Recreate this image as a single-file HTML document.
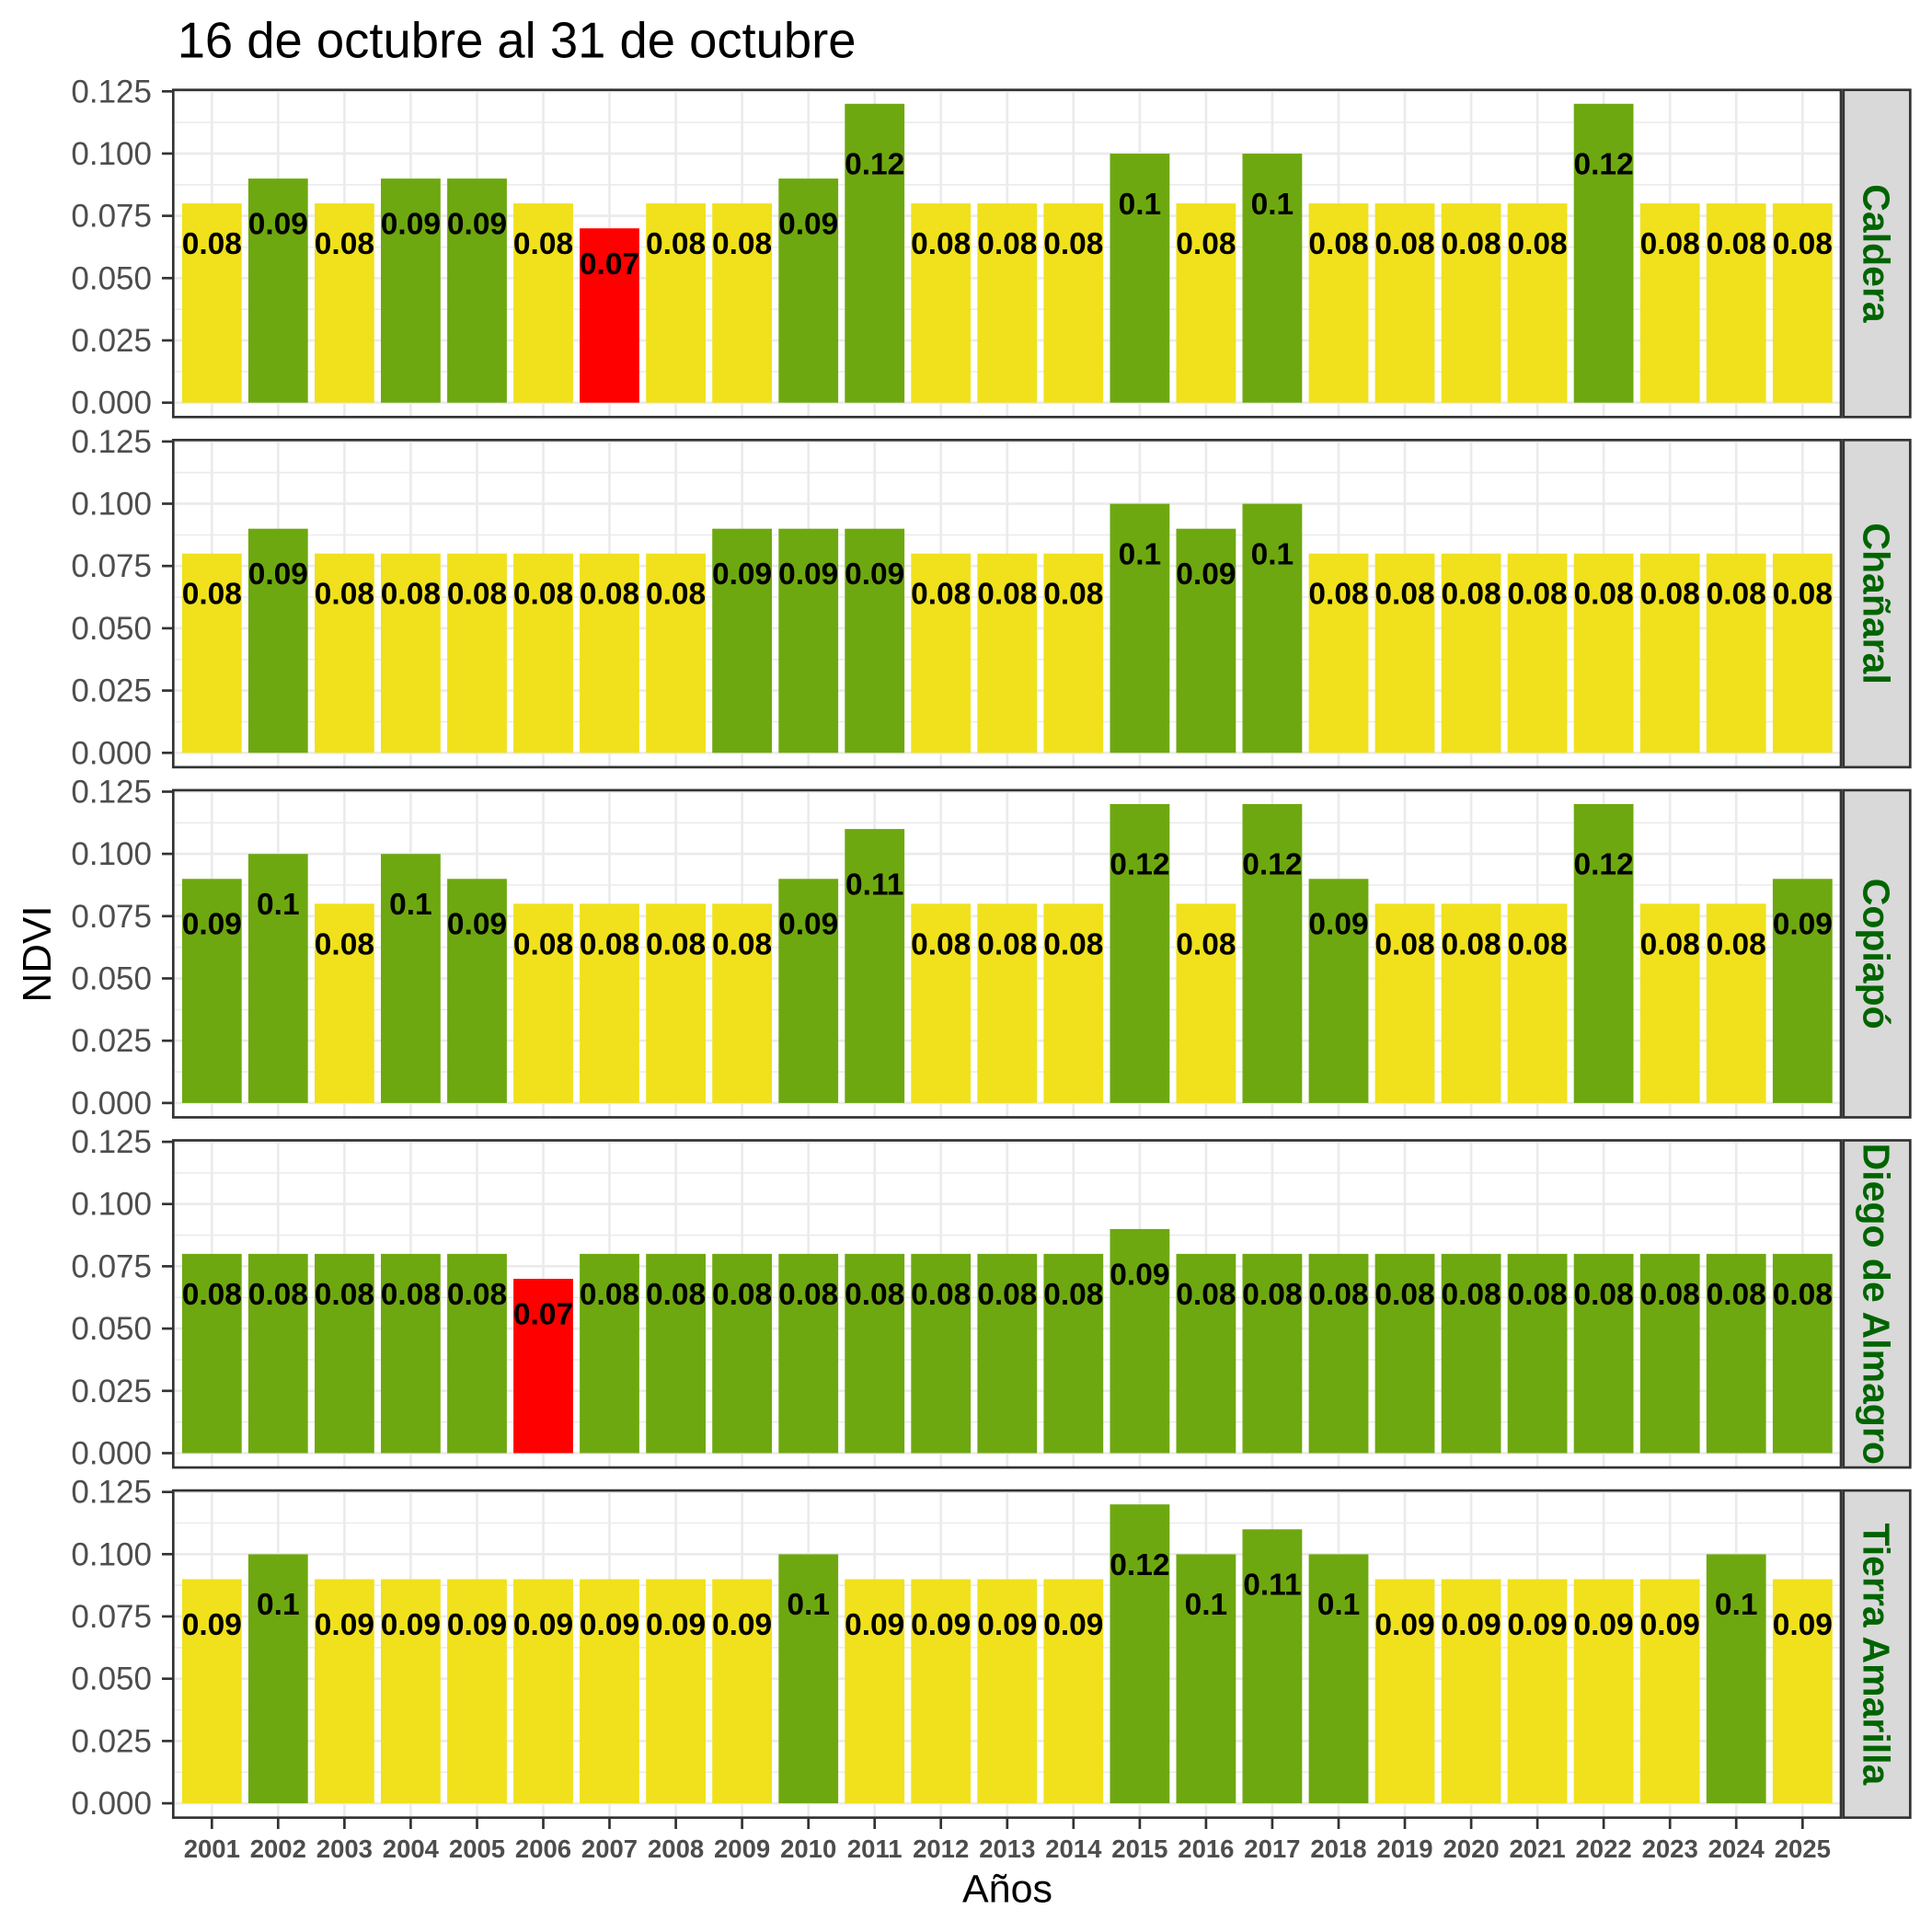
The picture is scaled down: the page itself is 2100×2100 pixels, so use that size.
<!DOCTYPE html>
<html><head><meta charset="utf-8"><style>
html,body{margin:0;padding:0;background:#fff;}
svg{display:block;}
.Y{fill:#F0E11C}.G{fill:#6EA810}.R{fill:#FF0000}
.bl{font-family:"Liberation Sans",Arial,sans-serif;font-weight:bold;font-size:33.5px;fill:#000;text-anchor:middle}
.yl{font-family:"Liberation Sans",Arial,sans-serif;font-size:35px;fill:#4d4d4d;text-anchor:end}
.xl{font-family:"Liberation Sans",Arial,sans-serif;font-weight:bold;font-size:27.5px;fill:#4d4d4d;text-anchor:middle}
.st{font-family:"Liberation Sans",Arial,sans-serif;font-weight:bold;font-size:41px;fill:#006400;text-anchor:middle}
.gM{stroke:#ebebeb;stroke-width:2.7}
.gm{stroke:#ebebeb;stroke-width:1.6}
</style></head><body>
<svg width="2100" height="2100" viewBox="0 0 2100 2100" xmlns="http://www.w3.org/2000/svg">
<defs>
<g id="grid">
<rect x="188.3" y="97.7" width="1812.7" height="355.6" fill="#fff"/>
<g class="gm">
<line x1="188.3" x2="2001" y1="403.9" y2="403.9"/><line x1="188.3" x2="2001" y1="336.2" y2="336.2"/><line x1="188.3" x2="2001" y1="268.5" y2="268.5"/><line x1="188.3" x2="2001" y1="200.8" y2="200.8"/><line x1="188.3" x2="2001" y1="133.1" y2="133.1"/>
</g>
<g class="gM">
<line x1="188.3" x2="2001" y1="437.7" y2="437.7"/><line x1="188.3" x2="2001" y1="370.0" y2="370.0"/><line x1="188.3" x2="2001" y1="302.3" y2="302.3"/><line x1="188.3" x2="2001" y1="234.6" y2="234.6"/><line x1="188.3" x2="2001" y1="166.9" y2="166.9"/><line x1="188.3" x2="2001" y1="99.3" y2="99.3"/>
<line x1="230.3" x2="230.3" y1="97.7" y2="453.3"/><line x1="302.3" x2="302.3" y1="97.7" y2="453.3"/><line x1="374.4" x2="374.4" y1="97.7" y2="453.3"/><line x1="446.4" x2="446.4" y1="97.7" y2="453.3"/><line x1="518.5" x2="518.5" y1="97.7" y2="453.3"/><line x1="590.5" x2="590.5" y1="97.7" y2="453.3"/><line x1="662.5" x2="662.5" y1="97.7" y2="453.3"/><line x1="734.6" x2="734.6" y1="97.7" y2="453.3"/><line x1="806.6" x2="806.6" y1="97.7" y2="453.3"/><line x1="878.7" x2="878.7" y1="97.7" y2="453.3"/><line x1="950.7" x2="950.7" y1="97.7" y2="453.3"/><line x1="1022.7" x2="1022.7" y1="97.7" y2="453.3"/><line x1="1094.8" x2="1094.8" y1="97.7" y2="453.3"/><line x1="1166.8" x2="1166.8" y1="97.7" y2="453.3"/><line x1="1238.9" x2="1238.9" y1="97.7" y2="453.3"/><line x1="1310.9" x2="1310.9" y1="97.7" y2="453.3"/><line x1="1382.9" x2="1382.9" y1="97.7" y2="453.3"/><line x1="1455.0" x2="1455.0" y1="97.7" y2="453.3"/><line x1="1527.0" x2="1527.0" y1="97.7" y2="453.3"/><line x1="1599.1" x2="1599.1" y1="97.7" y2="453.3"/><line x1="1671.1" x2="1671.1" y1="97.7" y2="453.3"/><line x1="1743.1" x2="1743.1" y1="97.7" y2="453.3"/><line x1="1815.2" x2="1815.2" y1="97.7" y2="453.3"/><line x1="1887.2" x2="1887.2" y1="97.7" y2="453.3"/><line x1="1959.3" x2="1959.3" y1="97.7" y2="453.3"/>
</g>
</g>
<g id="frame">
<rect x="188.3" y="97.7" width="1812.7" height="355.6" fill="none" stroke="#333" stroke-width="2.7"/>
<rect x="2003.8" y="97.7" width="72.5" height="355.6" fill="#d9d9d9" stroke="#333" stroke-width="2.7"/>
<g stroke="#333" stroke-width="2.7">
<line x1="176" x2="188.3" y1="437.7" y2="437.7"/><line x1="176" x2="188.3" y1="370.0" y2="370.0"/><line x1="176" x2="188.3" y1="302.3" y2="302.3"/><line x1="176" x2="188.3" y1="234.6" y2="234.6"/><line x1="176" x2="188.3" y1="166.9" y2="166.9"/><line x1="176" x2="188.3" y1="99.3" y2="99.3"/>
</g>
</g>
</defs>

<text x="192.7" y="62.3" font-family="Liberation Sans, Arial, sans-serif" font-size="54.4" fill="#000">16 de octubre al 31 de octubre</text>

<!-- Panel 1: Caldera -->
<g>
<use href="#grid"/>
<rect class="Y" x="197.9" y="221.1" width="64.8" height="216.6"/>
<rect class="G" x="269.9" y="194.1" width="64.8" height="243.6"/>
<rect class="Y" x="342.0" y="221.1" width="64.8" height="216.6"/>
<rect class="G" x="414.0" y="194.1" width="64.8" height="243.6"/>
<rect class="G" x="486.1" y="194.1" width="64.8" height="243.6"/>
<rect class="Y" x="558.1" y="221.1" width="64.8" height="216.6"/>
<rect class="R" x="630.1" y="248.2" width="64.8" height="189.5"/>
<rect class="Y" x="702.2" y="221.1" width="64.8" height="216.6"/>
<rect class="Y" x="774.2" y="221.1" width="64.8" height="216.6"/>
<rect class="G" x="846.3" y="194.1" width="64.8" height="243.6"/>
<rect class="G" x="918.3" y="112.8" width="64.8" height="324.9"/>
<rect class="Y" x="990.3" y="221.1" width="64.8" height="216.6"/>
<rect class="Y" x="1062.4" y="221.1" width="64.8" height="216.6"/>
<rect class="Y" x="1134.4" y="221.1" width="64.8" height="216.6"/>
<rect class="G" x="1206.5" y="167.0" width="64.8" height="270.7"/>
<rect class="Y" x="1278.5" y="221.1" width="64.8" height="216.6"/>
<rect class="G" x="1350.5" y="167.0" width="64.8" height="270.7"/>
<rect class="Y" x="1422.6" y="221.1" width="64.8" height="216.6"/>
<rect class="Y" x="1494.6" y="221.1" width="64.8" height="216.6"/>
<rect class="Y" x="1566.7" y="221.1" width="64.8" height="216.6"/>
<rect class="Y" x="1638.7" y="221.1" width="64.8" height="216.6"/>
<rect class="G" x="1710.7" y="112.8" width="64.8" height="324.9"/>
<rect class="Y" x="1782.8" y="221.1" width="64.8" height="216.6"/>
<rect class="Y" x="1854.8" y="221.1" width="64.8" height="216.6"/>
<rect class="Y" x="1926.9" y="221.1" width="64.8" height="216.6"/>
<text class="bl" x="230.3" y="276.1">0.08</text>
<text class="bl" x="302.3" y="254.5">0.09</text>
<text class="bl" x="374.4" y="276.1">0.08</text>
<text class="bl" x="446.4" y="254.5">0.09</text>
<text class="bl" x="518.5" y="254.5">0.09</text>
<text class="bl" x="590.5" y="276.1">0.08</text>
<text class="bl" x="662.5" y="297.8">0.07</text>
<text class="bl" x="734.6" y="276.1">0.08</text>
<text class="bl" x="806.6" y="276.1">0.08</text>
<text class="bl" x="878.7" y="254.5">0.09</text>
<text class="bl" x="950.7" y="189.5">0.12</text>
<text class="bl" x="1022.7" y="276.1">0.08</text>
<text class="bl" x="1094.8" y="276.1">0.08</text>
<text class="bl" x="1166.8" y="276.1">0.08</text>
<text class="bl" x="1238.9" y="232.8">0.1</text>
<text class="bl" x="1310.9" y="276.1">0.08</text>
<text class="bl" x="1382.9" y="232.8">0.1</text>
<text class="bl" x="1455.0" y="276.1">0.08</text>
<text class="bl" x="1527.0" y="276.1">0.08</text>
<text class="bl" x="1599.1" y="276.1">0.08</text>
<text class="bl" x="1671.1" y="276.1">0.08</text>
<text class="bl" x="1743.1" y="189.5">0.12</text>
<text class="bl" x="1815.2" y="276.1">0.08</text>
<text class="bl" x="1887.2" y="276.1">0.08</text>
<text class="bl" x="1959.3" y="276.1">0.08</text>
<use href="#frame"/>
<text class="yl" x="165" y="449.7">0.000</text><text class="yl" x="165" y="382.0">0.025</text><text class="yl" x="165" y="314.3">0.050</text><text class="yl" x="165" y="246.6">0.075</text><text class="yl" x="165" y="178.9">0.100</text><text class="yl" x="165" y="111.3">0.125</text>
<text class="st" transform="translate(2025.3,275.5) rotate(90)">Caldera</text>
</g>

<!-- Panel 2: Chañaral -->
<g transform="translate(0,380.6)">
<use href="#grid"/>
<rect class="Y" x="197.9" y="221.1" width="64.8" height="216.6"/>
<rect class="G" x="269.9" y="194.1" width="64.8" height="243.6"/>
<rect class="Y" x="342.0" y="221.1" width="64.8" height="216.6"/>
<rect class="Y" x="414.0" y="221.1" width="64.8" height="216.6"/>
<rect class="Y" x="486.1" y="221.1" width="64.8" height="216.6"/>
<rect class="Y" x="558.1" y="221.1" width="64.8" height="216.6"/>
<rect class="Y" x="630.1" y="221.1" width="64.8" height="216.6"/>
<rect class="Y" x="702.2" y="221.1" width="64.8" height="216.6"/>
<rect class="G" x="774.2" y="194.1" width="64.8" height="243.6"/>
<rect class="G" x="846.3" y="194.1" width="64.8" height="243.6"/>
<rect class="G" x="918.3" y="194.1" width="64.8" height="243.6"/>
<rect class="Y" x="990.3" y="221.1" width="64.8" height="216.6"/>
<rect class="Y" x="1062.4" y="221.1" width="64.8" height="216.6"/>
<rect class="Y" x="1134.4" y="221.1" width="64.8" height="216.6"/>
<rect class="G" x="1206.5" y="167.0" width="64.8" height="270.7"/>
<rect class="G" x="1278.5" y="194.1" width="64.8" height="243.6"/>
<rect class="G" x="1350.5" y="167.0" width="64.8" height="270.7"/>
<rect class="Y" x="1422.6" y="221.1" width="64.8" height="216.6"/>
<rect class="Y" x="1494.6" y="221.1" width="64.8" height="216.6"/>
<rect class="Y" x="1566.7" y="221.1" width="64.8" height="216.6"/>
<rect class="Y" x="1638.7" y="221.1" width="64.8" height="216.6"/>
<rect class="Y" x="1710.7" y="221.1" width="64.8" height="216.6"/>
<rect class="Y" x="1782.8" y="221.1" width="64.8" height="216.6"/>
<rect class="Y" x="1854.8" y="221.1" width="64.8" height="216.6"/>
<rect class="Y" x="1926.9" y="221.1" width="64.8" height="216.6"/>
<text class="bl" x="230.3" y="276.1">0.08</text>
<text class="bl" x="302.3" y="254.5">0.09</text>
<text class="bl" x="374.4" y="276.1">0.08</text>
<text class="bl" x="446.4" y="276.1">0.08</text>
<text class="bl" x="518.5" y="276.1">0.08</text>
<text class="bl" x="590.5" y="276.1">0.08</text>
<text class="bl" x="662.5" y="276.1">0.08</text>
<text class="bl" x="734.6" y="276.1">0.08</text>
<text class="bl" x="806.6" y="254.5">0.09</text>
<text class="bl" x="878.7" y="254.5">0.09</text>
<text class="bl" x="950.7" y="254.5">0.09</text>
<text class="bl" x="1022.7" y="276.1">0.08</text>
<text class="bl" x="1094.8" y="276.1">0.08</text>
<text class="bl" x="1166.8" y="276.1">0.08</text>
<text class="bl" x="1238.9" y="232.8">0.1</text>
<text class="bl" x="1310.9" y="254.5">0.09</text>
<text class="bl" x="1382.9" y="232.8">0.1</text>
<text class="bl" x="1455.0" y="276.1">0.08</text>
<text class="bl" x="1527.0" y="276.1">0.08</text>
<text class="bl" x="1599.1" y="276.1">0.08</text>
<text class="bl" x="1671.1" y="276.1">0.08</text>
<text class="bl" x="1743.1" y="276.1">0.08</text>
<text class="bl" x="1815.2" y="276.1">0.08</text>
<text class="bl" x="1887.2" y="276.1">0.08</text>
<text class="bl" x="1959.3" y="276.1">0.08</text>
<use href="#frame"/>
<text class="yl" x="165" y="449.7">0.000</text><text class="yl" x="165" y="382.0">0.025</text><text class="yl" x="165" y="314.3">0.050</text><text class="yl" x="165" y="246.6">0.075</text><text class="yl" x="165" y="178.9">0.100</text><text class="yl" x="165" y="111.3">0.125</text>
<text class="st" transform="translate(2025.3,275.5) rotate(90)">Chañaral</text>
</g>

<!-- Panel 3: Copiapó -->
<g transform="translate(0,761.2)">
<use href="#grid"/>
<rect class="G" x="197.9" y="194.1" width="64.8" height="243.6"/>
<rect class="G" x="269.9" y="167.0" width="64.8" height="270.7"/>
<rect class="Y" x="342.0" y="221.1" width="64.8" height="216.6"/>
<rect class="G" x="414.0" y="167.0" width="64.8" height="270.7"/>
<rect class="G" x="486.1" y="194.1" width="64.8" height="243.6"/>
<rect class="Y" x="558.1" y="221.1" width="64.8" height="216.6"/>
<rect class="Y" x="630.1" y="221.1" width="64.8" height="216.6"/>
<rect class="Y" x="702.2" y="221.1" width="64.8" height="216.6"/>
<rect class="Y" x="774.2" y="221.1" width="64.8" height="216.6"/>
<rect class="G" x="846.3" y="194.1" width="64.8" height="243.6"/>
<rect class="G" x="918.3" y="139.9" width="64.8" height="297.8"/>
<rect class="Y" x="990.3" y="221.1" width="64.8" height="216.6"/>
<rect class="Y" x="1062.4" y="221.1" width="64.8" height="216.6"/>
<rect class="Y" x="1134.4" y="221.1" width="64.8" height="216.6"/>
<rect class="G" x="1206.5" y="112.8" width="64.8" height="324.9"/>
<rect class="Y" x="1278.5" y="221.1" width="64.8" height="216.6"/>
<rect class="G" x="1350.5" y="112.8" width="64.8" height="324.9"/>
<rect class="G" x="1422.6" y="194.1" width="64.8" height="243.6"/>
<rect class="Y" x="1494.6" y="221.1" width="64.8" height="216.6"/>
<rect class="Y" x="1566.7" y="221.1" width="64.8" height="216.6"/>
<rect class="Y" x="1638.7" y="221.1" width="64.8" height="216.6"/>
<rect class="G" x="1710.7" y="112.8" width="64.8" height="324.9"/>
<rect class="Y" x="1782.8" y="221.1" width="64.8" height="216.6"/>
<rect class="Y" x="1854.8" y="221.1" width="64.8" height="216.6"/>
<rect class="G" x="1926.9" y="194.1" width="64.8" height="243.6"/>
<text class="bl" x="230.3" y="254.5">0.09</text>
<text class="bl" x="302.3" y="232.8">0.1</text>
<text class="bl" x="374.4" y="276.1">0.08</text>
<text class="bl" x="446.4" y="232.8">0.1</text>
<text class="bl" x="518.5" y="254.5">0.09</text>
<text class="bl" x="590.5" y="276.1">0.08</text>
<text class="bl" x="662.5" y="276.1">0.08</text>
<text class="bl" x="734.6" y="276.1">0.08</text>
<text class="bl" x="806.6" y="276.1">0.08</text>
<text class="bl" x="878.7" y="254.5">0.09</text>
<text class="bl" x="950.7" y="211.2">0.11</text>
<text class="bl" x="1022.7" y="276.1">0.08</text>
<text class="bl" x="1094.8" y="276.1">0.08</text>
<text class="bl" x="1166.8" y="276.1">0.08</text>
<text class="bl" x="1238.9" y="189.5">0.12</text>
<text class="bl" x="1310.9" y="276.1">0.08</text>
<text class="bl" x="1382.9" y="189.5">0.12</text>
<text class="bl" x="1455.0" y="254.5">0.09</text>
<text class="bl" x="1527.0" y="276.1">0.08</text>
<text class="bl" x="1599.1" y="276.1">0.08</text>
<text class="bl" x="1671.1" y="276.1">0.08</text>
<text class="bl" x="1743.1" y="189.5">0.12</text>
<text class="bl" x="1815.2" y="276.1">0.08</text>
<text class="bl" x="1887.2" y="276.1">0.08</text>
<text class="bl" x="1959.3" y="254.5">0.09</text>
<use href="#frame"/>
<text class="yl" x="165" y="449.7">0.000</text><text class="yl" x="165" y="382.0">0.025</text><text class="yl" x="165" y="314.3">0.050</text><text class="yl" x="165" y="246.6">0.075</text><text class="yl" x="165" y="178.9">0.100</text><text class="yl" x="165" y="111.3">0.125</text>
<text class="st" transform="translate(2025.3,275.5) rotate(90)">Copiapó</text>
</g>

<!-- Panel 4: Diego de Almagro -->
<g transform="translate(0,1141.8)">
<use href="#grid"/>
<rect class="G" x="197.9" y="221.1" width="64.8" height="216.6"/>
<rect class="G" x="269.9" y="221.1" width="64.8" height="216.6"/>
<rect class="G" x="342.0" y="221.1" width="64.8" height="216.6"/>
<rect class="G" x="414.0" y="221.1" width="64.8" height="216.6"/>
<rect class="G" x="486.1" y="221.1" width="64.8" height="216.6"/>
<rect class="R" x="558.1" y="248.2" width="64.8" height="189.5"/>
<rect class="G" x="630.1" y="221.1" width="64.8" height="216.6"/>
<rect class="G" x="702.2" y="221.1" width="64.8" height="216.6"/>
<rect class="G" x="774.2" y="221.1" width="64.8" height="216.6"/>
<rect class="G" x="846.3" y="221.1" width="64.8" height="216.6"/>
<rect class="G" x="918.3" y="221.1" width="64.8" height="216.6"/>
<rect class="G" x="990.3" y="221.1" width="64.8" height="216.6"/>
<rect class="G" x="1062.4" y="221.1" width="64.8" height="216.6"/>
<rect class="G" x="1134.4" y="221.1" width="64.8" height="216.6"/>
<rect class="G" x="1206.5" y="194.1" width="64.8" height="243.6"/>
<rect class="G" x="1278.5" y="221.1" width="64.8" height="216.6"/>
<rect class="G" x="1350.5" y="221.1" width="64.8" height="216.6"/>
<rect class="G" x="1422.6" y="221.1" width="64.8" height="216.6"/>
<rect class="G" x="1494.6" y="221.1" width="64.8" height="216.6"/>
<rect class="G" x="1566.7" y="221.1" width="64.8" height="216.6"/>
<rect class="G" x="1638.7" y="221.1" width="64.8" height="216.6"/>
<rect class="G" x="1710.7" y="221.1" width="64.8" height="216.6"/>
<rect class="G" x="1782.8" y="221.1" width="64.8" height="216.6"/>
<rect class="G" x="1854.8" y="221.1" width="64.8" height="216.6"/>
<rect class="G" x="1926.9" y="221.1" width="64.8" height="216.6"/>
<text class="bl" x="230.3" y="276.1">0.08</text>
<text class="bl" x="302.3" y="276.1">0.08</text>
<text class="bl" x="374.4" y="276.1">0.08</text>
<text class="bl" x="446.4" y="276.1">0.08</text>
<text class="bl" x="518.5" y="276.1">0.08</text>
<text class="bl" x="590.5" y="297.8">0.07</text>
<text class="bl" x="662.5" y="276.1">0.08</text>
<text class="bl" x="734.6" y="276.1">0.08</text>
<text class="bl" x="806.6" y="276.1">0.08</text>
<text class="bl" x="878.7" y="276.1">0.08</text>
<text class="bl" x="950.7" y="276.1">0.08</text>
<text class="bl" x="1022.7" y="276.1">0.08</text>
<text class="bl" x="1094.8" y="276.1">0.08</text>
<text class="bl" x="1166.8" y="276.1">0.08</text>
<text class="bl" x="1238.9" y="254.5">0.09</text>
<text class="bl" x="1310.9" y="276.1">0.08</text>
<text class="bl" x="1382.9" y="276.1">0.08</text>
<text class="bl" x="1455.0" y="276.1">0.08</text>
<text class="bl" x="1527.0" y="276.1">0.08</text>
<text class="bl" x="1599.1" y="276.1">0.08</text>
<text class="bl" x="1671.1" y="276.1">0.08</text>
<text class="bl" x="1743.1" y="276.1">0.08</text>
<text class="bl" x="1815.2" y="276.1">0.08</text>
<text class="bl" x="1887.2" y="276.1">0.08</text>
<text class="bl" x="1959.3" y="276.1">0.08</text>
<use href="#frame"/>
<text class="yl" x="165" y="449.7">0.000</text><text class="yl" x="165" y="382.0">0.025</text><text class="yl" x="165" y="314.3">0.050</text><text class="yl" x="165" y="246.6">0.075</text><text class="yl" x="165" y="178.9">0.100</text><text class="yl" x="165" y="111.3">0.125</text>
<text class="st" transform="translate(2025.3,275.5) rotate(90)">Diego de Almagro</text>
</g>

<!-- Panel 5: Tierra Amarilla -->
<g transform="translate(0,1522.4)">
<use href="#grid"/>
<rect class="Y" x="197.9" y="194.1" width="64.8" height="243.6"/>
<rect class="G" x="269.9" y="167.0" width="64.8" height="270.7"/>
<rect class="Y" x="342.0" y="194.1" width="64.8" height="243.6"/>
<rect class="Y" x="414.0" y="194.1" width="64.8" height="243.6"/>
<rect class="Y" x="486.1" y="194.1" width="64.8" height="243.6"/>
<rect class="Y" x="558.1" y="194.1" width="64.8" height="243.6"/>
<rect class="Y" x="630.1" y="194.1" width="64.8" height="243.6"/>
<rect class="Y" x="702.2" y="194.1" width="64.8" height="243.6"/>
<rect class="Y" x="774.2" y="194.1" width="64.8" height="243.6"/>
<rect class="G" x="846.3" y="167.0" width="64.8" height="270.7"/>
<rect class="Y" x="918.3" y="194.1" width="64.8" height="243.6"/>
<rect class="Y" x="990.3" y="194.1" width="64.8" height="243.6"/>
<rect class="Y" x="1062.4" y="194.1" width="64.8" height="243.6"/>
<rect class="Y" x="1134.4" y="194.1" width="64.8" height="243.6"/>
<rect class="G" x="1206.5" y="112.8" width="64.8" height="324.9"/>
<rect class="G" x="1278.5" y="167.0" width="64.8" height="270.7"/>
<rect class="G" x="1350.5" y="139.9" width="64.8" height="297.8"/>
<rect class="G" x="1422.6" y="167.0" width="64.8" height="270.7"/>
<rect class="Y" x="1494.6" y="194.1" width="64.8" height="243.6"/>
<rect class="Y" x="1566.7" y="194.1" width="64.8" height="243.6"/>
<rect class="Y" x="1638.7" y="194.1" width="64.8" height="243.6"/>
<rect class="Y" x="1710.7" y="194.1" width="64.8" height="243.6"/>
<rect class="Y" x="1782.8" y="194.1" width="64.8" height="243.6"/>
<rect class="G" x="1854.8" y="167.0" width="64.8" height="270.7"/>
<rect class="Y" x="1926.9" y="194.1" width="64.8" height="243.6"/>
<text class="bl" x="230.3" y="254.5">0.09</text>
<text class="bl" x="302.3" y="232.8">0.1</text>
<text class="bl" x="374.4" y="254.5">0.09</text>
<text class="bl" x="446.4" y="254.5">0.09</text>
<text class="bl" x="518.5" y="254.5">0.09</text>
<text class="bl" x="590.5" y="254.5">0.09</text>
<text class="bl" x="662.5" y="254.5">0.09</text>
<text class="bl" x="734.6" y="254.5">0.09</text>
<text class="bl" x="806.6" y="254.5">0.09</text>
<text class="bl" x="878.7" y="232.8">0.1</text>
<text class="bl" x="950.7" y="254.5">0.09</text>
<text class="bl" x="1022.7" y="254.5">0.09</text>
<text class="bl" x="1094.8" y="254.5">0.09</text>
<text class="bl" x="1166.8" y="254.5">0.09</text>
<text class="bl" x="1238.9" y="189.5">0.12</text>
<text class="bl" x="1310.9" y="232.8">0.1</text>
<text class="bl" x="1382.9" y="211.2">0.11</text>
<text class="bl" x="1455.0" y="232.8">0.1</text>
<text class="bl" x="1527.0" y="254.5">0.09</text>
<text class="bl" x="1599.1" y="254.5">0.09</text>
<text class="bl" x="1671.1" y="254.5">0.09</text>
<text class="bl" x="1743.1" y="254.5">0.09</text>
<text class="bl" x="1815.2" y="254.5">0.09</text>
<text class="bl" x="1887.2" y="232.8">0.1</text>
<text class="bl" x="1959.3" y="254.5">0.09</text>
<use href="#frame"/>
<text class="yl" x="165" y="449.7">0.000</text><text class="yl" x="165" y="382.0">0.025</text><text class="yl" x="165" y="314.3">0.050</text><text class="yl" x="165" y="246.6">0.075</text><text class="yl" x="165" y="178.9">0.100</text><text class="yl" x="165" y="111.3">0.125</text>
<text class="st" transform="translate(2025.3,275.5) rotate(90)">Tierra Amarilla</text>
</g>

<!-- X axis ticks -->
<g stroke="#333" stroke-width="2.7">
<line x1="230.3" x2="230.3" y1="1976" y2="1988"/><line x1="302.3" x2="302.3" y1="1976" y2="1988"/><line x1="374.4" x2="374.4" y1="1976" y2="1988"/><line x1="446.4" x2="446.4" y1="1976" y2="1988"/><line x1="518.5" x2="518.5" y1="1976" y2="1988"/><line x1="590.5" x2="590.5" y1="1976" y2="1988"/><line x1="662.5" x2="662.5" y1="1976" y2="1988"/><line x1="734.6" x2="734.6" y1="1976" y2="1988"/><line x1="806.6" x2="806.6" y1="1976" y2="1988"/><line x1="878.7" x2="878.7" y1="1976" y2="1988"/><line x1="950.7" x2="950.7" y1="1976" y2="1988"/><line x1="1022.7" x2="1022.7" y1="1976" y2="1988"/><line x1="1094.8" x2="1094.8" y1="1976" y2="1988"/><line x1="1166.8" x2="1166.8" y1="1976" y2="1988"/><line x1="1238.9" x2="1238.9" y1="1976" y2="1988"/><line x1="1310.9" x2="1310.9" y1="1976" y2="1988"/><line x1="1382.9" x2="1382.9" y1="1976" y2="1988"/><line x1="1455.0" x2="1455.0" y1="1976" y2="1988"/><line x1="1527.0" x2="1527.0" y1="1976" y2="1988"/><line x1="1599.1" x2="1599.1" y1="1976" y2="1988"/><line x1="1671.1" x2="1671.1" y1="1976" y2="1988"/><line x1="1743.1" x2="1743.1" y1="1976" y2="1988"/><line x1="1815.2" x2="1815.2" y1="1976" y2="1988"/><line x1="1887.2" x2="1887.2" y1="1976" y2="1988"/><line x1="1959.3" x2="1959.3" y1="1976" y2="1988"/>
</g>
<g>
<text class="xl" x="230.3" y="2019">2001</text><text class="xl" x="302.3" y="2019">2002</text><text class="xl" x="374.4" y="2019">2003</text><text class="xl" x="446.4" y="2019">2004</text><text class="xl" x="518.5" y="2019">2005</text><text class="xl" x="590.5" y="2019">2006</text><text class="xl" x="662.5" y="2019">2007</text><text class="xl" x="734.6" y="2019">2008</text><text class="xl" x="806.6" y="2019">2009</text><text class="xl" x="878.7" y="2019">2010</text><text class="xl" x="950.7" y="2019">2011</text><text class="xl" x="1022.7" y="2019">2012</text><text class="xl" x="1094.8" y="2019">2013</text><text class="xl" x="1166.8" y="2019">2014</text><text class="xl" x="1238.9" y="2019">2015</text><text class="xl" x="1310.9" y="2019">2016</text><text class="xl" x="1382.9" y="2019">2017</text><text class="xl" x="1455.0" y="2019">2018</text><text class="xl" x="1527.0" y="2019">2019</text><text class="xl" x="1599.1" y="2019">2020</text><text class="xl" x="1671.1" y="2019">2021</text><text class="xl" x="1743.1" y="2019">2022</text><text class="xl" x="1815.2" y="2019">2023</text><text class="xl" x="1887.2" y="2019">2024</text><text class="xl" x="1959.3" y="2019">2025</text>
</g>

<text x="1095" y="2067.3" font-family="Liberation Sans, Arial, sans-serif" font-size="43" fill="#000" text-anchor="middle">Años</text>
<text transform="translate(55,1037) rotate(-90)" font-family="Liberation Sans, Arial, sans-serif" font-size="44" fill="#000" text-anchor="middle">NDVI</text>
</svg>
</body></html>
